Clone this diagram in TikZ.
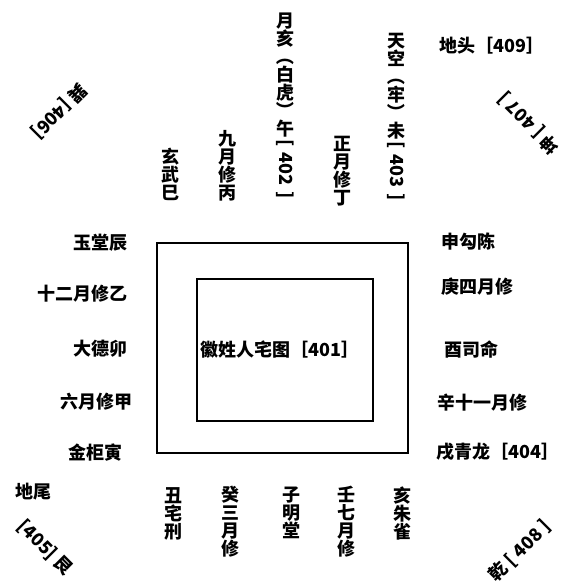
\documentclass[tikz,border=0pt]{standalone}
\usepackage{fontspec}
\usepackage{graphicx}
\usetikzlibrary{positioning}
\newfontfamily\cjk{Noto Sans CJK SC}
\newcommand{\vr}[1]{\rotatebox[origin=c]{-90}{#1}}
\tikzset{
  lbl/.style    ={font=\cjk\bfseries\fontsize{9}{9}\selectfont,inner sep=0pt},
  vlbl/.style   ={lbl,align=center,text width=10pt},
  corner/.style ={lbl},
  frame/.style  ={draw,line width=1pt},
}

\begin{document}
\begin{tikzpicture}[x=0.5pt,y=-0.5pt]
\useasboundingbox (0,0) rectangle (568,584);

% house
\draw[frame] (157,243) rectangle (408,453);
\draw[frame] (197,279) rectangle (373,421);
\node[lbl] (title) at (280,350) {徽姓人宅图［401］};

% top row
\node[vlbl,anchor=south] (si)   at (170,201) {玄\\武\\巳};
\node[vlbl,anchor=south] (bing) at (227,202) {九\\月\\修\\丙};
\node[vlbl,anchor=south] (wu)   at (285,199) {月\\亥\\\vr{（}\\白\\虎\\\vr{）}\\午\\\vr{[ 402 ]}};
\node[vlbl,anchor=south] (ding) at (342,207) {正\\月\\修\\丁};
\node[vlbl,anchor=south] (wei)  at (396,201) {天\\空\\\vr{（}\\牢\\\vr{）}\\未\\\vr{[ 403 ]}};

% bottom row
\node[vlbl,anchor=north] (chou) at (173,487) {丑\\宅\\刑};
\node[vlbl,anchor=north] (gui)  at (230,486) {癸\\三\\月\\修};
\node[vlbl,anchor=north] (zi)   at (291,486) {子\\明\\堂};
\node[vlbl,anchor=north] (ren)  at (346,486) {壬\\七\\月\\修};
\node[vlbl,anchor=north] (hai)  at (402,486) {亥\\朱\\雀};

% left column
\node[lbl,anchor=east] (chen) at (128,243) {玉堂辰};
\node[lbl,anchor=east] (yi)   at (128,294) {十二月修乙};
\node[lbl,anchor=east] (mao)  at (128,349) {大德卯};
\node[lbl,anchor=east] (jia)  at (133,402) {六月修甲};
\node[lbl,anchor=east] (yin)  at (123,453) {金柜寅};

% right column
\node[lbl,anchor=west] (shen) at (441,242) {申勾陈};
\node[lbl,anchor=west] (geng) at (441,287) {庚四月修};
\node[lbl,anchor=west] (you)  at (444,350) {酉司命};
\node[lbl,anchor=west] (xin)  at (437,403) {辛十一月修};
\node[lbl,anchor=west] (xu)   at (436,452) {戌青龙［404］};

% head and tail
\node[lbl,anchor=west] (ditou) at (439,46)  {地头［409］};
\node[lbl,anchor=west] (diwei) at (15,492)  {地尾};

% corners
\node[corner,rotate=225] (xun)  at (59,111)  {巽 [406]};
\node[corner,rotate=135] (kun)  at (529,123) {坤 [ 407 ]};
\node[corner,rotate=-45] (gen)  at (45,548)  {[405] 艮};
\node[corner,rotate=45]  (qian) at (520,551) {乾 [ 408 ]};

\end{tikzpicture}
\end{document}
